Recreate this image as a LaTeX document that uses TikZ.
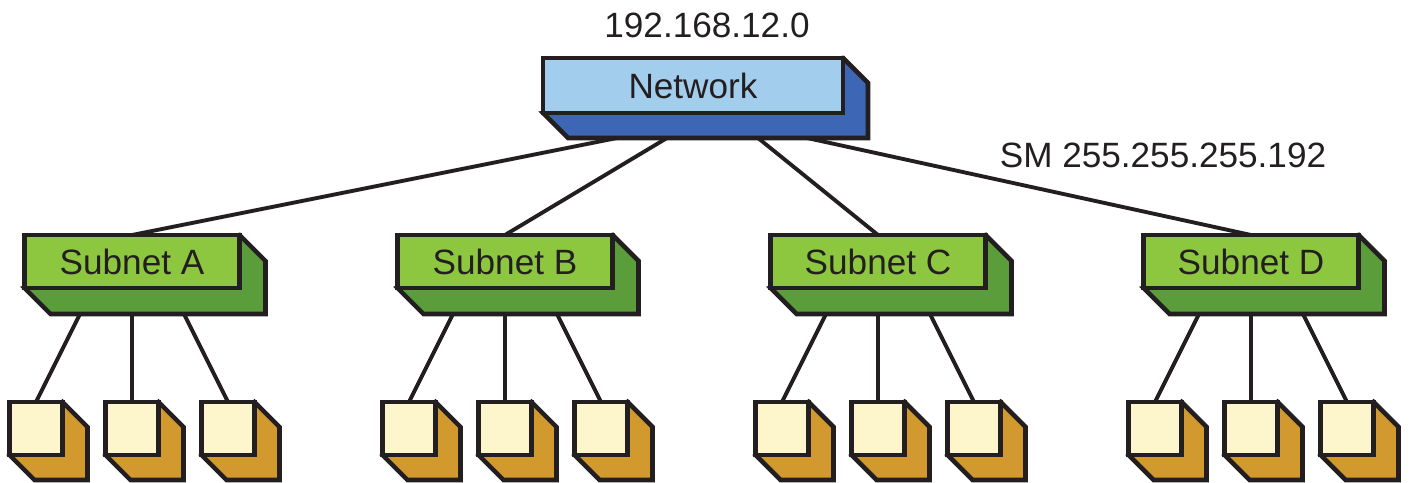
\documentclass[tikz,border=0pt]{standalone}
\usepackage{fontspec}
\setmainfont{Liberation Sans}
\usepackage{tikz}
\usetikzlibrary{calc, backgrounds}
\usepackage{xcolor}
\definecolor{inkline}{HTML}{231F20}
\definecolor{netfront}{HTML}{A3CDEC}
\definecolor{netside}{HTML}{3D66B4}
\definecolor{subfront}{HTML}{8DC63F}
\definecolor{subside}{HTML}{5B9D3B}
\definecolor{hostfront}{HTML}{FDF6CC}
\definecolor{hostside}{HTML}{D29A2E}
\tikzstyle{face} = [rectangle, draw=inkline, line width=1.3pt, outer sep=0pt, inner sep=0pt, text=inkline]
\tikzstyle{netbox} = [face, fill=netfront, minimum width=3cm, minimum height=0.55cm]
\tikzstyle{subnet} = [face, fill=subfront, minimum width=2.15cm, minimum height=0.53cm]
\tikzstyle{host} = [face, fill=hostfront, minimum size=0.53cm]
\tikzstyle{link} = [draw=inkline, line width=1.1pt]
\tikzstyle{side} = [draw=inkline, line width=1.3pt]
% extruded back of a box: node, colour, depth
\newcommand{\boxside}[3]{%
  \draw[side, fill=#2] (#1.north east) -- ++(#3,-#3)
    -- ($(#1.south east)+(#3,-#3)$) -- ($(#1.south west)+(#3,-#3)$)
    -- (#1.south west) -- cycle;}

\begin{document}
\begin{tikzpicture}[every node/.style={font=\fontsize{10}{12}\selectfont}]
  \useasboundingbox (0,0) rectangle (14.11,4.83);
  \node[text=inkline] (addr) at (7.07,4.58) {192.168.12.0};
  \node[netbox] (net) at (6.93,3.975) {Network};
  \node[text=inkline] (mask) at (11.63,3.28) {SM 255.255.255.192};

  \foreach \s/\x in {A/1.32, B/5.05, C/8.78, D/12.51} {
    \node[subnet] (sub\s) at (\x,2.215) {Subnet \s};
    \node[host] (\s1) at (\x-0.96,0.545) {};
    \node[host] (\s2) at (\x,0.545) {};
    \node[host] (\s3) at (\x+0.96,0.545) {};
  }

  \begin{scope}[on background layer]
    \draw[link, shorten <=-4pt] ($(net.south)+(-0.76,-0.25)$) -- (subA.north);
    \draw[link, shorten <=-4pt] ($(net.south)+(-0.26,-0.25)$) -- (subB.north);
    \draw[link, shorten <=-4pt] ($(net.south)+(0.65,-0.25)$) -- (subC.north);
    \draw[link, shorten <=-4pt] ($(net.south)+(1.14,-0.25)$) -- (subD.north);
    \foreach \s in {A,B,C,D} {
      \draw[link] ($(sub\s.south)+(-0.39,0)$) -- (\s1.north);
      \draw[link] (sub\s.south) -- (\s2.north);
      \draw[link] ($(sub\s.south)+(0.39,0)$) -- (\s3.north);
      \boxside{sub\s}{subside}{0.26}
      \boxside{\s1}{hostside}{0.25}
      \boxside{\s2}{hostside}{0.25}
      \boxside{\s3}{hostside}{0.25}
    }
    \boxside{net}{netside}{0.25}
  \end{scope}
\end{tikzpicture}
\end{document}
